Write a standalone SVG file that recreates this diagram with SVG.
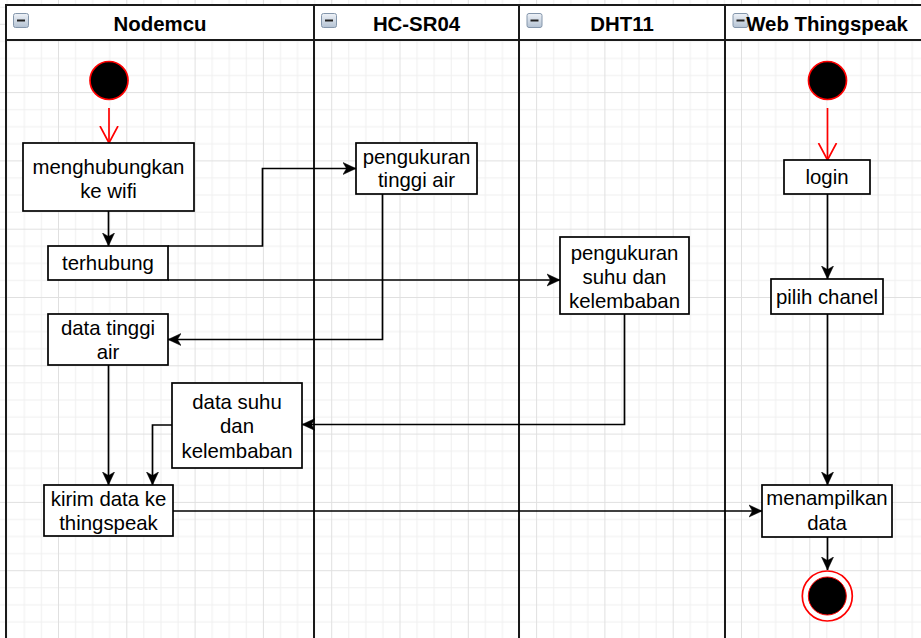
<svg xmlns="http://www.w3.org/2000/svg" width="921" height="638" viewBox="0 0 921 638">
  <style>
    .lane { fill: none; stroke: #1a1a1a; stroke-width: 2; }
    .hdr { fill: #ffffff; stroke: #1a1a1a; stroke-width: 2; }
    .htxt { font-family: "Liberation Sans", Arial, sans-serif; font-size: 20.4px; font-weight: bold; fill: #000; text-anchor: middle; }
    .box { fill: #ffffff; stroke: #000; stroke-width: 1.7; }
    .txt { font-family: "Liberation Sans", Arial, sans-serif; font-size: 20.4px; fill: #000; text-anchor: middle; }
    .edge { fill: none; stroke: #000; stroke-width: 1.7; marker-end: url(#arrow); }
    .redge { fill: none; stroke: #ff0000; stroke-width: 1.7; marker-end: url(#open); }
    .start { fill: #000; stroke: #ff0000; stroke-width: 1.7; }
    .icon { fill: url(#ig); stroke: #8496ab; stroke-width: 1; }
    .minus { stroke: #222; stroke-width: 2; }
  </style>
  <defs>
    <pattern id="grid" patternUnits="userSpaceOnUse" x="58" y="23.8" width="68.3" height="68.3">
      <path d="M17.575 0V68.3M34.65 0V68.3M51.725 0V68.3M0 17.575H68.3M0 34.65H68.3M0 51.725H68.3" stroke="#efefef" stroke-width="1" fill="none"/>
      <path d="M0.5 0V68.3M0 0.5H68.3" stroke="#e0e0e0" stroke-width="1" fill="none"/>
    </pattern>
    <linearGradient id="ig" x1="0" y1="0" x2="0" y2="1">
      <stop offset="0" stop-color="#eef2f7"/>
      <stop offset="1" stop-color="#b4c2d3"/>
    </linearGradient>
    <marker id="arrow" markerUnits="userSpaceOnUse" markerWidth="14" markerHeight="14" viewBox="0 0 14 14" refX="13" refY="7" orient="auto">
      <path d="M0,1 L13,7 L0,13 L3.5,7 Z" fill="#000" stroke="#000" stroke-width="0.5"/>
    </marker>
    <marker id="open" markerUnits="userSpaceOnUse" markerWidth="20" markerHeight="22" viewBox="0 0 20 22" refX="17" refY="11" orient="auto">
      <path d="M0,2 L17,11 L0,20" fill="none" stroke="#ff0000" stroke-width="1.7"/>
    </marker>
  </defs>

  <rect x="0" y="0" width="921" height="638" fill="#ffffff"/>
  <rect x="0" y="0" width="921" height="638" fill="url(#grid)"/>

  <g id="lanes">
    <g id="lane-nodemcu">
      <rect class="lane" x="6" y="5" width="308" height="640"/>
      <rect class="hdr" x="6" y="5" width="308" height="35"/>
      <rect class="icon" x="13.5" y="13.5" width="15" height="14" rx="2"/>
      <line class="minus" x1="17" y1="20.5" x2="25" y2="20.5"/>
      <text class="htxt" x="160" y="30.5">Nodemcu</text>
    </g>
    <g id="lane-hcsr04">
      <rect class="lane" x="314" y="5" width="205" height="640"/>
      <rect class="hdr" x="314" y="5" width="205" height="35"/>
      <rect class="icon" x="321.5" y="13.5" width="15" height="14" rx="2"/>
      <line class="minus" x1="325" y1="20.5" x2="333" y2="20.5"/>
      <text class="htxt" x="416.5" y="30.5">HC-SR04</text>
    </g>
    <g id="lane-dht11">
      <rect class="lane" x="519" y="5" width="206" height="640"/>
      <rect class="hdr" x="519" y="5" width="206" height="35"/>
      <rect class="icon" x="527" y="13.5" width="15" height="14" rx="2"/>
      <line class="minus" x1="530.5" y1="20.5" x2="538.5" y2="20.5"/>
      <text class="htxt" x="622" y="30.5">DHT11</text>
    </g>
    <g id="lane-web">
      <rect class="lane" x="725" y="5" width="210" height="640"/>
      <rect class="hdr" x="725" y="5" width="210" height="35"/>
      <rect class="icon" x="733" y="13.5" width="15" height="14" rx="2"/>
      <line class="minus" x1="736.5" y1="20.5" x2="744.5" y2="20.5"/>
      <text class="htxt" x="827" y="30.5">Web Thingspeak</text>
    </g>
  </g>

  <g id="connectors">
    <path class="redge" d="M109,108 V143"/>
    <path class="edge" d="M108.5,211 V246"/>
    <path class="edge" d="M168,246 H262.5 V168.5 H356"/>
    <path class="edge" d="M168,280 H560"/>
    <path class="edge" d="M382.5,194 V339.5 H168"/>
    <path class="edge" d="M624.5,314 V424.5 H302"/>
    <path class="edge" d="M108.5,365 V485"/>
    <path class="edge" d="M172,425 H152.5 V485"/>
    <path class="edge" d="M173,511 H762"/>
    <path class="redge" d="M827.5,108 V160"/>
    <path class="edge" d="M827.5,194 V279"/>
    <path class="edge" d="M827.5,314 V485"/>
    <path class="edge" d="M827.5,537 V570"/>
  </g>

  <g id="start-nodemcu">
    <circle class="start" cx="109" cy="80.5" r="19"/>
  </g>
  <g id="menghubungkan">
    <rect class="box" x="23" y="143" width="171" height="68"/>
    <text class="txt" x="108.5" y="173.5">menghubungkan</text>
    <text class="txt" x="108.5" y="197.5">ke wifi</text>
  </g>
  <g id="terhubung">
    <rect class="box" x="48" y="246" width="120" height="34"/>
    <text class="txt" x="108" y="270">terhubung</text>
  </g>
  <g id="data-tinggi-air">
    <rect class="box" x="48" y="314" width="120" height="51"/>
    <text class="txt" x="108" y="335">data tinggi</text>
    <text class="txt" x="108" y="359">air</text>
  </g>
  <g id="pengukuran-tinggi-air">
    <rect class="box" x="356" y="143" width="121" height="51"/>
    <text class="txt" x="416.5" y="164">pengukuran</text>
    <text class="txt" x="416.5" y="187">tinggi air</text>
  </g>
  <g id="pengukuran-suhu">
    <rect class="box" x="560" y="237" width="129" height="77"/>
    <text class="txt" x="624.5" y="259.5">pengukuran</text>
    <text class="txt" x="624.5" y="283.5">suhu dan</text>
    <text class="txt" x="624.5" y="307.5">kelembaban</text>
  </g>
  <g id="data-suhu">
    <rect class="box" x="172" y="383" width="130" height="85"/>
    <text class="txt" x="237" y="408.5">data suhu</text>
    <text class="txt" x="237" y="433">dan</text>
    <text class="txt" x="237" y="457.5">kelembaban</text>
  </g>
  <g id="kirim-data">
    <rect class="box" x="44" y="485" width="129" height="51"/>
    <text class="txt" x="108.5" y="506">kirim data ke</text>
    <text class="txt" x="108.5" y="529.5">thingspeak</text>
  </g>
  <g id="start-web">
    <circle class="start" cx="827.5" cy="80.5" r="19"/>
  </g>
  <g id="login">
    <rect class="box" x="784" y="160" width="86" height="34"/>
    <text class="txt" x="827" y="183.5">login</text>
  </g>
  <g id="pilih-chanel">
    <rect class="box" x="771" y="279" width="112" height="35"/>
    <text class="txt" x="827" y="304">pilih chanel</text>
  </g>
  <g id="menampilkan-data">
    <rect class="box" x="762" y="485" width="130" height="52"/>
    <text class="txt" x="827" y="505">menampilkan</text>
    <text class="txt" x="827" y="529.5">data</text>
  </g>
  <g id="end-web">
    <circle cx="827.3" cy="596" r="25" fill="#ffffff" stroke="#ff0000" stroke-width="1.7"/>
    <circle cx="827.3" cy="596" r="19" fill="#000" stroke="#ff0000" stroke-width="1"/>
  </g>
</svg>
